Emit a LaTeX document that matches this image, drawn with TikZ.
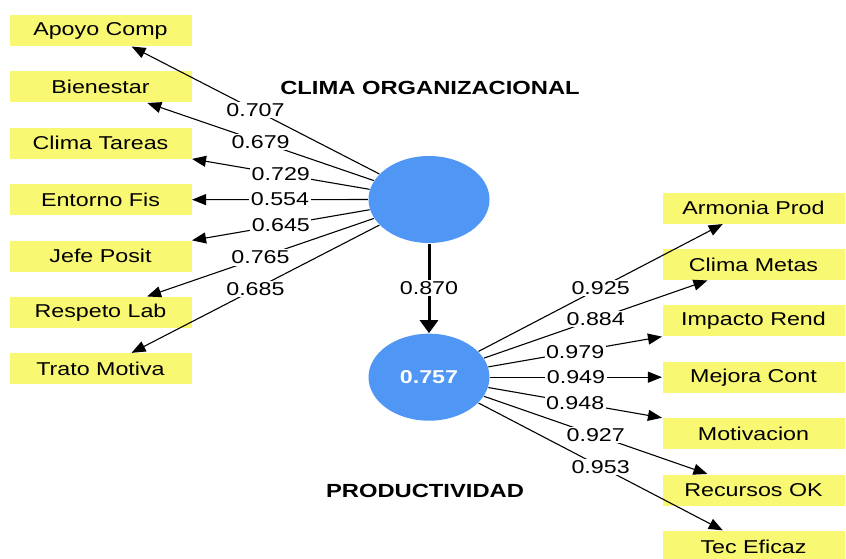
\documentclass[tikz,border=0pt]{standalone}
\usepackage{fontspec}
\setmainfont{Liberation Sans}[FakeStretch=1.25]
\usetikzlibrary{arrows.meta,shapes.geometric}
\definecolor{boxyellow}{RGB}{249,248,114}
\definecolor{lvblue}{RGB}{80,150,245}

\begin{document}
\begin{tikzpicture}[x=1pt,y=-1pt,>={Triangle[length=14pt,width=11pt]},line width=1.1pt,
  ind/.style={fill=boxyellow,minimum width=182pt,minimum height=31pt,inner sep=0pt,font=\fontsize{18.6}{20}\selectfont},
  lv/.style={ellipse,fill=lvblue,minimum width=121pt,minimum height=87pt,inner sep=0pt},
  ld/.style={fill=white,inner sep=1.5pt,font=\fontsize{18.6}{20}\selectfont},
  ttl/.style={font=\fontsize{19}{22}\selectfont\bfseries}]
\useasboundingbox (0,0) rectangle (846,559);
% latent variables
\node[lv] (clima) at (429,199.5) {};
\node[lv,text=white,font=\fontsize{18.6}{20}\selectfont\bfseries] (prod) at (429,377.2) {0.757};
\node[ttl] (climat) at (430,88) {CLIMA ORGANIZACIONAL};
\node[ttl] (prodt) at (425,491) {PRODUCTIVIDAD};
% indicators
\node[ind] (apoyo) at (100.5,30.5) {Apoyo Comp};
\node[ind] (bien) at (100.5,86.9) {Bienestar};
\node[ind] (tareas) at (100.5,143.3) {Clima Tareas};
\node[ind] (entorno) at (100.5,199.7) {Entorno Fis};
\node[ind] (jefe) at (100.5,256.1) {Jefe Posit};
\node[ind] (respeto) at (100.5,312.5) {Respeto Lab};
\node[ind] (trato) at (100.5,368.9) {Trato Motiva};
\node[ind] (armonia) at (753.5,208) {Armonia Prod};
\node[ind] (metas) at (753.5,264.4) {Clima Metas};
\node[ind] (impacto) at (753.5,320.8) {Impacto Rend};
\node[ind] (mejora) at (753.5,377.2) {Mejora Cont};
\node[ind] (motiv) at (753.5,433.6) {Motivacion};
\node[ind] (recursos) at (753.5,490) {Recursos OK};
\node[ind] (tec) at (753.5,546.4) {Tec Eficaz};
% loadings
\draw[->] (clima) -- node[ld]{0.707} (apoyo);
\draw[->] (clima) -- node[ld]{0.679} (bien);
\draw[->] (clima) -- node[ld]{0.729} (tareas);
\draw[->] (clima) -- node[ld]{0.554} (entorno);
\draw[->] (clima) -- node[ld]{0.645} (jefe);
\draw[->] (clima) -- node[ld]{0.765} (respeto);
\draw[->] (clima) -- node[ld]{0.685} (trato);
\draw[->] (prod) -- node[ld]{0.925} (armonia);
\draw[->] (prod) -- node[ld]{0.884} (metas);
\draw[->] (prod) -- node[ld]{0.979} (impacto);
\draw[->] (prod) -- node[ld]{0.949} (mejora);
\draw[->] (prod) -- node[ld]{0.948} (motiv);
\draw[->] (prod) -- node[ld]{0.927} (recursos);
\draw[->] (prod) -- node[ld]{0.953} (tec);
% path
\draw[-{Triangle[length=13pt,width=18pt]},line width=3pt] (clima) -- node[ld]{0.870} (prod);
\end{tikzpicture}
\end{document}
